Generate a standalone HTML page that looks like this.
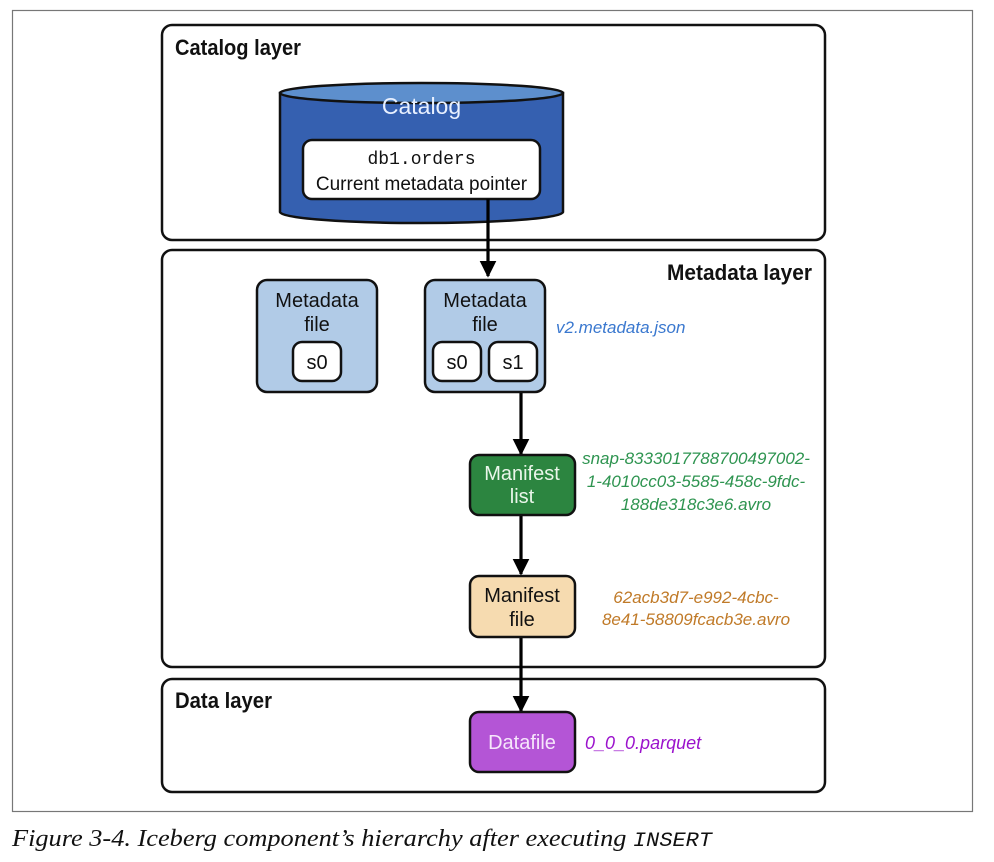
<!DOCTYPE html>
<html><head><meta charset="utf-8"><style>
html,body{margin:0;padding:0;background:#fff;}
svg{display:block;}
.c{font-family:"Liberation Sans Narrow","Liberation Sans",sans-serif;}
</style></head><body>
<svg width="994" height="862" viewBox="0 0 994 862" xmlns="http://www.w3.org/2000/svg">
<defs>
<marker id="ah" viewBox="0 0 10 10" refX="9" refY="5" markerWidth="5.2" markerHeight="5.2" orient="auto"><path d="M0,0 L10,5 L0,10 z" fill="#000"/></marker>
</defs>
<rect x="12.5" y="10.5" width="960" height="801" fill="#fff" stroke="#777" stroke-width="1.2"/>
<g class="c" fill="none" stroke="#111" stroke-width="2.5">
<rect x="162" y="25" width="663" height="215" rx="10"/>
<rect x="162" y="250" width="663" height="417" rx="10"/>
<rect x="162" y="679" width="663" height="113" rx="10"/>
</g>
<g class="c" font-size="22" font-weight="bold" fill="#111">
<text x="175" y="55" textLength="126" lengthAdjust="spacingAndGlyphs">Catalog layer</text>
<text x="812" y="280" text-anchor="end" textLength="145" lengthAdjust="spacingAndGlyphs">Metadata layer</text>
<text x="175" y="708" textLength="97" lengthAdjust="spacingAndGlyphs">Data layer</text>
</g>
<!-- cylinder -->
<path d="M280,93 L280,212 A141.5,11 0 0 0 563,212 L563,93 Z" fill="#3560b0" stroke="#111" stroke-width="2.5"/>
<ellipse cx="421.5" cy="93" rx="141.5" ry="10" fill="#5d8fcd" stroke="#111" stroke-width="2.5"/>
<text class="c" x="421.5" y="114" text-anchor="middle" font-size="23" fill="#e8f0ff">Catalog</text>
<rect x="303" y="140" width="237" height="59" rx="9" fill="#fff" stroke="#111" stroke-width="2.5"/>
<text x="421.5" y="164" text-anchor="middle" font-family="Liberation Mono,monospace" font-size="18" fill="#111">db1.orders</text>
<text class="c" x="421.5" y="190" text-anchor="middle" font-size="19" fill="#111">Current metadata pointer</text>
<!-- arrows -->
<g stroke="#000" stroke-width="3.2" marker-end="url(#ah)">
<line x1="488" y1="199" x2="488" y2="276"/>
<line x1="521" y1="381" x2="521" y2="454"/>
<line x1="521" y1="515" x2="521" y2="574"/>
<line x1="521" y1="637" x2="521" y2="711"/>
</g>
<!-- metadata files -->
<g stroke="#111" stroke-width="2.5">
<rect x="257" y="280" width="120" height="112" rx="10" fill="#b1cbe7"/>
<rect x="425" y="280" width="120" height="112" rx="10" fill="#b1cbe7"/>
<rect x="293" y="342" width="48" height="39" rx="9" fill="#fff"/>
<rect x="433" y="342" width="48" height="39" rx="9" fill="#fff"/>
<rect x="489" y="342" width="48" height="39" rx="9" fill="#fff"/>
</g>
<g class="c" font-size="20" fill="#111" text-anchor="middle">
<text x="317" y="307">Metadata</text><text x="317" y="331">file</text>
<text x="485" y="307">Metadata</text><text x="485" y="331">file</text>
<text x="317" y="369">s0</text><text x="457" y="369">s0</text><text x="513" y="369">s1</text>
</g>
<text class="c" x="556" y="333" font-size="17" font-style="italic" fill="#3a78cf">v2.metadata.json</text>
<!-- manifest list -->
<rect x="470" y="455" width="105" height="60" rx="9" fill="#2c8540" stroke="#111" stroke-width="2.5"/>
<g class="c" font-size="20" text-anchor="middle" fill="#eaf6ea"><text x="522" y="480">Manifest</text><text x="522" y="503">list</text></g>
<g class="c" font-size="17" font-style="italic" text-anchor="middle" fill="#2e9450">
<text x="696" y="464">snap-8333017788700497002-</text>
<text x="696" y="487">1-4010cc03-5585-458c-9fdc-</text>
<text x="696" y="510">188de318c3e6.avro</text>
</g>
<!-- manifest file -->
<rect x="470" y="576" width="105" height="61" rx="9" fill="#f6dbb0" stroke="#111" stroke-width="2.5"/>
<g class="c" font-size="20" text-anchor="middle" fill="#111"><text x="522" y="602">Manifest</text><text x="522" y="626">file</text></g>
<g class="c" font-size="17" font-style="italic" text-anchor="middle" fill="#c07a28">
<text x="696" y="603">62acb3d7-e992-4cbc-</text>
<text x="696" y="625">8e41-58809fcacb3e.avro</text>
</g>
<!-- datafile -->
<rect x="470" y="712" width="105" height="60" rx="9" fill="#b455d6" stroke="#111" stroke-width="2.5"/>
<text class="c" x="522" y="749" font-size="20" text-anchor="middle" fill="#f6e6fb">Datafile</text>
<text class="c" x="585" y="749" font-size="18" font-style="italic" fill="#9b12cc">0_0_0.parquet</text>
<!-- caption -->
<text x="12" y="846" font-family="Liberation Serif,serif" font-style="italic" font-size="24" fill="#111" textLength="700" lengthAdjust="spacingAndGlyphs">Figure 3-4. Iceberg component’s hierarchy after executing <tspan font-family="Liberation Mono,monospace" font-size="20">INSERT</tspan></text>
</svg>
</body></html>
